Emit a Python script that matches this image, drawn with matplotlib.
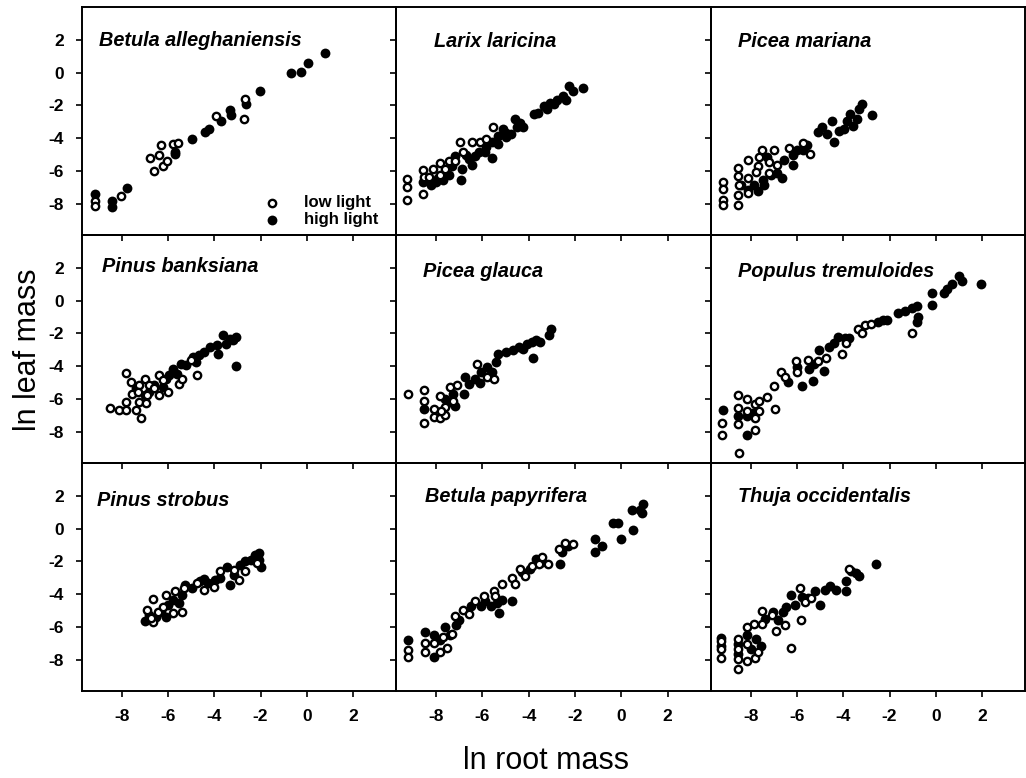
import matplotlib
matplotlib.use("Agg")
import matplotlib.pyplot as plt

plt.rcParams['font.family'] = ['Liberation Sans', 'DejaVu Sans']

species = ["Betula alleghaniensis", "Larix laricina", "Picea mariana",
           "Pinus banksiana", "Picea glauca", "Populus tremuloides",
           "Pinus strobus", "Betula papyrifera", "Thuja occidentalis"]
tick_values = [-8, -6, -4, -2, 0, 2]
tick_labels = ["-8", "-6", "-4", "-2", "0", "2"]
legend_labels = ["low light", "high light"]

# Betula alleghaniensis
ba_low_x = [-9.13, -9.13, -8.04, -6.77, -6.40, -6.58, -6.23, -6.30, -6.04, -5.80, -5.55, -3.91, -2.68, -2.70]
ba_low_y = [-7.85, -8.15, -7.50, -5.18, -5.02, -5.98, -5.72, -4.42, -5.36, -4.36, -4.32, -2.63, -1.59, -2.83]
ba_high_x = [-9.13, -8.43, -8.43, -7.75, -5.68, -5.68, -4.97, -4.38, -4.23, -3.70, -3.33, -3.26, -2.64, -2.03, -0.70, -0.25, 0.07, 0.77]
ba_high_y = [-7.40, -7.80, -8.20, -7.05, -4.82, -4.95, -4.06, -3.62, -3.43, -2.97, -2.27, -2.59, -1.89, -1.13, -0.04, 0.06, 0.60, 1.20]

# Larix laricina
ll_low_x = [-9.25, -9.25, -9.25, -8.56, -8.56, -8.54, -8.15, -7.85, -7.85, -7.44, -7.63, -6.96, -6.82, -6.44, -6.11, -5.83, -5.54, -7.19, -8.29]
ll_low_y = [-6.46, -6.97, -7.77, -5.96, -7.37, -6.37, -5.86, -5.52, -6.27, -5.40, -5.86, -4.26, -4.86, -4.22, -4.26, -4.02, -3.31, -5.36, -6.37]
ll_high_x = [-8.56, -8.22, -8.00, -7.70, -7.44, -6.92, -7.19, -6.60, -6.30, -6.16, -5.83, -5.57, -5.34, -5.34, -4.97,
             -4.75, -4.60, -4.38, -4.23, -3.78, -3.58, -3.35, -3.06, -2.76, -2.54, -2.40, -2.25, -2.10, -1.65,
             -6.90, -6.44, -5.90, -5.60, -5.10, -7.90, -7.30, -6.70, -5.00, -4.50, -3.20, -2.90]
ll_high_y = [-6.67, -6.87, -6.67, -6.57, -6.27, -6.52, -5.06, -5.26, -5.06, -4.86, -4.56, -5.22, -4.36, -3.86, -3.66,
             -3.75, -2.85, -3.05, -3.31, -2.55, -2.45, -2.05, -1.85, -1.64, -1.45, -1.64, -0.84, -1.14, -0.95,
             -5.86, -5.66, -4.86, -4.26, -3.45, -6.40, -5.70, -5.00, -3.90, -3.30, -2.20, -1.90]

# Picea mariana
pm_low_x = [-9.17, -9.17, -9.17, -9.17, -8.54, -8.54, -8.50, -8.54, -8.54, -8.10, -8.10, -7.70, -7.78, -7.49, -7.22, -7.22, -6.98, -6.85, -6.32, -5.73, -5.44, -7.65, -8.10]
pm_low_y = [-6.64, -7.10, -7.75, -8.10, -5.84, -6.30, -6.85, -7.45, -8.05, -5.35, -6.44, -5.70, -6.04, -4.74, -5.44, -6.14, -4.70, -5.64, -4.58, -4.30, -4.98, -5.14, -7.34]
pm_high_x = [-8.40, -8.10, -7.85, -7.67, -7.46, -7.40, -7.30, -7.10, -6.87, -6.63, -6.54, -6.17, -6.17, -6.00, -5.73,
             -5.56, -5.07, -4.93, -4.70, -4.49, -4.41, -4.20, -3.98, -3.83, -3.69, -3.56, -3.40, -3.34, -3.18, -2.74]
pm_high_y = [-6.85, -7.14, -6.85, -7.24, -6.55, -6.85, -5.14, -6.24, -6.14, -6.44, -5.34, -5.04, -5.64, -4.74, -4.74,
             -4.44, -3.64, -3.34, -3.74, -2.94, -4.24, -3.54, -3.44, -2.94, -2.54, -3.24, -2.84, -2.24, -1.90, -2.58]

# Pinus banksiana
pb_low_x = [-8.52, -8.09, -7.80, -7.80, -7.80, -7.61, -7.57, -7.39, -7.26, -7.14, -7.25, -7.30, -6.96, -6.90, -7.00,
            -6.81, -6.60, -6.38, -6.38, -6.01, -5.51, -5.40, -5.00, -4.74, -6.20]
pb_low_y = [-6.52, -6.67, -4.44, -6.67, -6.16, -4.99, -5.70, -6.67, -6.16, -7.13, -5.15, -5.60, -6.26, -5.76, -4.75,
            -5.15, -5.31, -4.55, -5.76, -5.55, -5.10, -4.75, -3.64, -4.55, -4.85]
pb_high_x = [-7.39, -7.00, -6.80, -6.60, -6.20, -6.10, -5.94, -5.80, -5.60, -5.43, -5.20, -4.93, -4.64, -4.43, -4.20,
             -3.90, -3.83, -3.62, -3.48, -3.33, -3.19, -3.04, -3.07, -4.80]
pb_high_y = [-5.35, -5.76, -5.55, -5.15, -5.25, -4.75, -4.55, -4.14, -4.45, -3.84, -3.94, -3.43, -3.33, -3.13, -2.83,
             -2.73, -3.23, -2.08, -2.63, -2.33, -2.43, -2.22, -3.98, -3.74]

# Picea glauca
pg_low_x = [-9.23, -8.52, -8.52, -8.52, -7.85, -8.10, -8.10, -7.85, -7.63, -7.40, -7.11, -6.22, -5.82, -5.51, -7.60, -7.80, -7.25]
pg_low_y = [-5.70, -5.43, -6.10, -7.47, -5.80, -6.58, -7.07, -7.13, -7.00, -5.29, -5.14, -3.85, -4.67, -4.77, -6.50, -6.70, -6.10]
pg_high_x = [-8.52, -7.63, -7.40, -7.20, -7.25, -6.81, -6.74, -6.60, -6.30, -6.07, -5.80, -5.57, -5.40, -5.33,
             -4.96, -4.67, -4.44, -4.24, -4.07, -3.84, -3.70, -3.50, -3.80, -3.11, -3.04, -6.10, -5.70]
pg_high_y = [-6.60, -6.00, -6.20, -6.40, -5.70, -5.70, -4.67, -5.08, -4.77, -4.37, -4.06, -4.37, -3.75, -3.24,
             -3.14, -3.04, -2.83, -2.94, -2.63, -2.52, -2.42, -2.52, -3.49, -2.12, -1.71, -5.00, -4.60]

# Populus tremuloides
pt_low_x = [-9.23, -9.23, -8.55, -8.55, -8.55, -8.50, -8.14, -8.14, -7.83, -7.83, -7.64, -7.64, -7.83, -7.27, -7.00,
            -6.94, -6.67, -6.50, -6.04, -5.53, -5.10, -4.74, -4.06, -3.87, -3.36, -3.07, -2.81, -3.20, -1.04, -6.00]
pt_low_y = [-7.45, -8.17, -5.74, -6.52, -7.55, -9.30, -6.00, -6.72, -6.31, -7.14, -6.11, -6.72, -7.86, -5.90, -5.23,
            -6.62, -4.36, -4.66, -3.70, -3.64, -3.70, -3.50, -3.23, -2.61, -1.73, -1.48, -1.44, -1.95, -1.99, -4.35]
pt_high_x = [-9.19, -8.55, -8.17, -8.14, -7.90, -6.40, -6.00, -5.80, -5.46, -5.32, -5.25, -5.03, -4.81, -4.60, -4.40,
             -4.23, -3.93, -3.73, -2.13, -1.62, -1.33, -1.04, -0.83, -0.76, -0.83, -0.17, -0.17, 0.33, 0.48, 0.70,
             0.99, 1.13, 1.93, -2.50, -2.30]
pt_high_y = [-6.67, -7.04, -8.17, -7.04, -6.85, -4.98, -4.05, -5.19, -4.15, -4.88, -3.87, -3.02, -4.30, -2.82, -2.61,
             -2.20, -2.30, -2.30, -1.17, -0.76, -0.62, -0.45, -0.35, -0.97, -1.28, 0.47, -0.25, 0.47, 0.68, 0.99,
             1.50, 1.19, 0.99, -1.30, -1.20]

# Pinus strobus
ps_low_x = [-6.92, -6.63, -6.63, -6.43, -6.20, -6.07, -5.80, -5.40, -5.70, -5.30, -4.75, -4.46, -4.03, -3.74, -3.16,
            -2.94, -2.65, -2.14, -6.75]
ps_low_y = [-4.95, -4.28, -5.67, -5.07, -4.75, -4.04, -5.16, -5.06, -3.79, -3.60, -3.33, -3.74, -3.53, -2.61, -2.51,
            -3.12, -2.61, -2.10, -5.47]
ps_high_x = [-7.00, -6.80, -6.50, -6.30, -6.07, -6.00, -5.76, -5.54, -5.40, -5.26, -4.97, -4.60, -4.46, -4.25, -3.95,
             -3.74, -3.46, -3.30, -3.16, -2.87, -2.65, -2.43, -2.22, -2.07, -2.00, -2.07]
ps_high_y = [-5.63, -5.26, -5.36, -5.06, -5.36, -4.65, -4.34, -4.55, -4.04, -3.43, -3.63, -3.22, -3.07, -3.33, -3.12,
             -3.02, -2.31, -3.43, -2.82, -2.20, -2.00, -1.90, -1.59, -1.90, -2.31, -1.49]

# Betula papyrifera
bp_low_x = [-9.21, -9.21, -8.46, -8.46, -8.10, -7.81, -7.53, -7.70, -7.30, -7.17, -6.85, -6.56, -6.30, -5.95, -5.52,
            -5.45, -5.15, -4.72, -4.58, -4.37, -4.17, -3.86, -3.57, -3.43, -3.15, -2.71, -2.45, -2.07]
bp_low_y = [-7.41, -7.82, -7.51, -7.00, -7.00, -7.51, -7.30, -6.59, -6.40, -5.35, -4.94, -5.20, -4.43, -4.12, -3.81,
            -4.12, -3.40, -2.98, -3.40, -2.47, -2.88, -2.27, -2.16, -1.75, -2.16, -1.23, -0.86, -0.93]
bp_high_x = [-9.21, -8.46, -8.10, -8.10, -7.85, -7.60, -7.40, -7.13, -7.00, -6.50, -6.08, -5.87, -5.65, -5.37, -5.30,
             -5.16, -4.72, -4.30, -3.93, -3.70, -3.43, -2.64, -2.57, -2.30, -1.13, -0.85, -1.13, -0.34, -0.13, -0.01,
             0.52, 0.45, 0.80, 0.95, 0.88]
bp_high_y = [-6.79, -6.28, -6.50, -7.82, -6.79, -5.97, -6.50, -5.86, -5.55, -4.73, -4.73, -4.43, -4.73, -4.53, -5.14,
             -4.33, -4.43, -2.67, -2.47, -1.85, -2.06, -2.16, -1.44, -1.03, -0.62, -1.03, -1.44, 0.37, 0.37, -0.66,
             -0.10, 1.13, 1.13, 1.48, 0.93]

# Thuja occidentalis
to_low_x = [-9.29, -9.29, -9.29, -8.55, -8.55, -8.55, -8.55, -8.14, -8.14, -8.14, -7.85, -7.83, -7.49, -7.49, -7.67,
            -7.09, -6.92, -6.51, -6.25, -5.85, -5.83, -5.67, -5.40, -3.73]
to_low_y = [-6.83, -7.35, -7.86, -6.73, -7.35, -7.97, -8.55, -6.00, -7.04, -8.10, -5.80, -7.86, -5.03, -5.80, -7.55,
            -5.28, -6.27, -5.90, -7.30, -3.62, -5.59, -4.45, -4.25, -2.48]
to_high_x = [-9.29, -9.29, -8.55, -8.55, -8.14, -7.98, -7.78, -7.56, -7.39, -7.03, -6.81, -6.59, -6.45, -6.25, -6.08,
             -5.79, -5.50, -5.21, -4.99, -4.77, -4.55, -4.33, -3.90, -3.90, -3.68, -3.46, -3.31, -2.59]
to_high_y = [-6.64, -7.14, -7.04, -7.66, -6.50, -7.35, -6.73, -7.14, -5.49, -5.08, -5.59, -5.08, -4.76, -4.04, -4.66,
             -4.14, -4.25, -3.83, -4.66, -3.73, -3.52, -3.73, -3.83, -3.21, -2.59, -2.69, -2.90, -2.13]

panels = [
    (ba_low_x, ba_low_y, ba_high_x, ba_high_y),
    (ll_low_x, ll_low_y, ll_high_x, ll_high_y),
    (pm_low_x, pm_low_y, pm_high_x, pm_high_y),
    (pb_low_x, pb_low_y, pb_high_x, pb_high_y),
    (pg_low_x, pg_low_y, pg_high_x, pg_high_y),
    (pt_low_x, pt_low_y, pt_high_x, pt_high_y),
    (ps_low_x, ps_low_y, ps_high_x, ps_high_y),
    (bp_low_x, bp_low_y, bp_high_x, bp_high_y),
    (to_low_x, to_low_y, to_high_x, to_high_y),
]

# title placement (pixel offsets from panel's top-left corner)
title_dx = [17, 38, 27, 20, 27, 27, 15, 29, 27]
title_dy = [24, 25, 25, 22, 27, 27, 28, 24, 24]

fig, axes = plt.subplots(3, 3, figsize=(10.26, 7.78), dpi=100)
fig.patch.set_facecolor("white")
fig.subplots_adjust(left=0.0799, right=0.9995, top=0.991, bottom=0.1118,
                    wspace=0, hspace=0)

for i, ax in enumerate(axes.flat):
    r, c = divmod(i, 3)
    lx, ly, hx, hy = panels[i]
    ax.patch.set_visible(False)
    hh = ax.scatter(hx, hy, s=50, color="black", linewidths=0, zorder=2)
    hl = ax.scatter(lx, ly, s=28, facecolors="white", edgecolors="black",
                    linewidths=1.7, zorder=3)
    ax.set_xlim(-9.71, 3.87)
    ax.set_ylim(-9.9, 4.0)
    ax.set_xticks(tick_values)
    ax.set_yticks(tick_values)
    ax.set_xticklabels(tick_labels, fontweight="bold")
    ax.set_yticklabels(tick_labels, fontweight="bold")
    ax.tick_params(direction="out", length=4, width=1.2, pad=9,
                   labelsize=12.5)
    if c != 0:
        ax.tick_params(labelleft=False)
    if r != 2:
        ax.tick_params(labelbottom=False)
    for sp in ax.spines.values():
        sp.set_linewidth(1.4)
    ax.text(title_dx[i] / 315.0, 1 - title_dy[i] / 228.0, species[i],
            transform=ax.transAxes, fontsize=14.3, fontweight="bold",
            fontstyle="italic", ha="left", va="top")
    if i == 0:
        ax.legend([hl, hh], legend_labels, loc="lower right",
                  bbox_to_anchor=(1 - 18 / 315.0, 8 / 228.0),
                  frameon=False, prop={"weight": "bold", "size": 12},
                  handlelength=1.0, handletextpad=1.4, labelspacing=0.1,
                  borderpad=0, borderaxespad=0)

fig.text(0.027, 0.55, "ln leaf mass", rotation=90, fontsize=22,
         ha="center", va="center")
fig.text(0.532, 0.022, "ln root mass", fontsize=22, ha="center", va="center")

fig.savefig("out.png", dpi=100, facecolor="white")
